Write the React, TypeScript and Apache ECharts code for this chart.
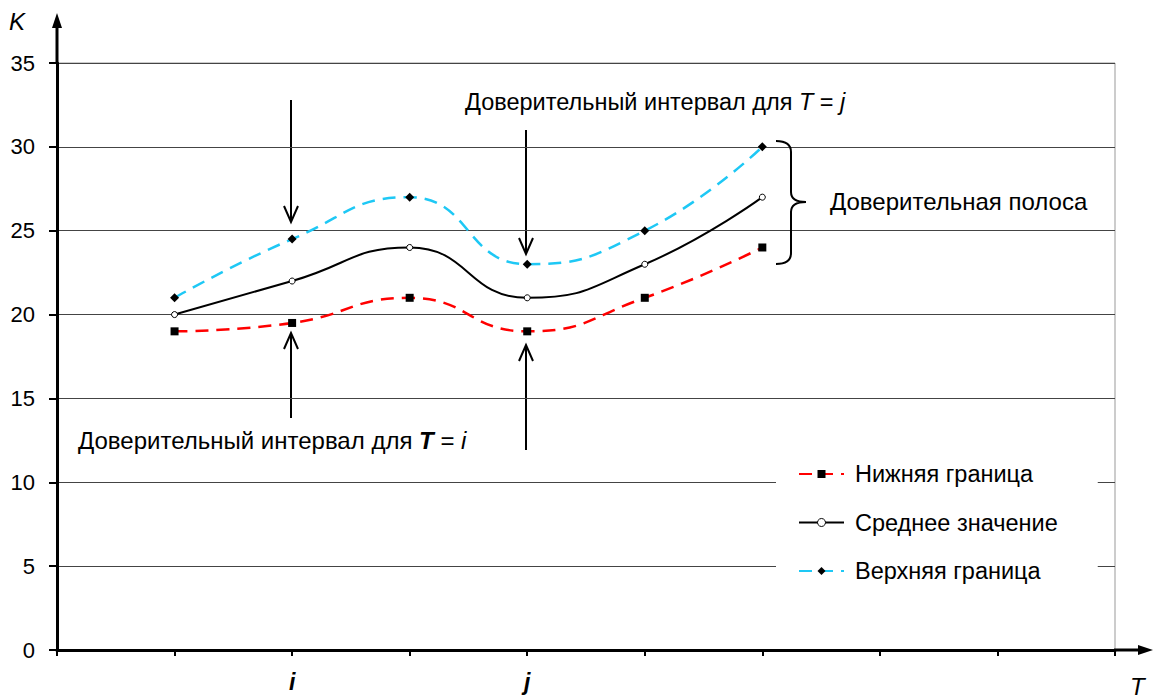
import React, { useEffect, useRef } from "react";
import * as echarts from "echarts";

const xPositions = [1, 2, 3, 4, 5, 6];
const lowerBound = [19, 19.5, 21, 19, 21, 24];
const meanValue = [20, 22, 24, 21, 23, 27];
const upperBound = [21, 24.5, 27, 23, 25, 30];
const xTickLabels: Record<number, string> = { 2: "i", 4: "j" };
const seriesNames = ["Нижняя граница", "Среднее значение", "Верхняя граница"];

const FONT = "'Liberation Sans', Arial, sans-serif";

const GRID = { left: 57, right: 40, top: 63, bottom: 48 };

function zip(ys: number[]) {
  return xPositions.map((x, i) => [x, ys[i]]);
}

export default function App() {
  const ref = useRef<HTMLDivElement>(null);
  useEffect(() => {
    if (!ref.current) return;
    try {
      echarts.graphic.registerShape(
        "brace",
        echarts.graphic.extendPath(
          "M776 141 Q791 141 791 152 L791 192 Q791 202 806 202 Q791 202 791 212 L791 253 Q791 264 776 264",
          {}
        )
      );
    } catch (e) {}
    const chart = echarts.init(ref.current, null, { renderer: "svg" });

    const arrowDown = (x: number, y1: number, y2: number) => [
      { type: "line", shape: { x1: x, y1, x2: x, y2 }, style: { stroke: "#000", lineWidth: 2 } },
      {
        type: "polyline",
        shape: { points: [[x - 7, y2 - 16], [x, y2], [x + 7, y2 - 16]] },
        style: { stroke: "#000", lineWidth: 2, fill: "none" },
      },
    ];
    const arrowUp = (x: number, y1: number, y2: number) => [
      { type: "line", shape: { x1: x, y1, x2: x, y2 }, style: { stroke: "#000", lineWidth: 2 } },
      {
        type: "polyline",
        shape: { points: [[x - 7, y2 + 16], [x, y2], [x + 7, y2 + 16]] },
        style: { stroke: "#000", lineWidth: 2, fill: "none" },
      },
    ];

    const textBase = { fontSize: 24, fontFamily: FONT, fill: "#000" };
    const rich = (size: number) => ({
      n: { fontSize: size, fontFamily: FONT, fill: "#000" },
      it: { fontSize: size, fontFamily: FONT, fill: "#000", fontStyle: "italic" },
      b: { fontSize: size, fontFamily: FONT, fill: "#000", fontStyle: "italic", fontWeight: "bold" },
    });

    chart.setOption({
      animation: false,
      backgroundColor: "#fff",
      grid: {
        ...GRID,
        show: true,
        borderColor: "#999",
        borderWidth: 1,
        backgroundColor: "transparent",
      },
      xAxis: {
        type: "value",
        min: 0,
        max: 9,
        interval: 1,
        axisLine: { show: true, onZero: false, lineStyle: { color: "#000", width: 3 } },
        axisTick: { show: true, length: 6, lineStyle: { color: "#000", width: 2 } },
        splitLine: { show: false },
        axisLabel: {
          margin: 20,
          fontSize: 23,
          fontFamily: FONT,
          fontStyle: "italic",
          fontWeight: "bold",
          color: "#000",
          formatter: (v: number) => xTickLabels[v] ?? "",
        },
      },
      yAxis: {
        type: "value",
        min: 0,
        max: 35,
        interval: 5,
        axisLine: { show: true, lineStyle: { color: "#000", width: 3 } },
        axisTick: { show: true, length: 8, lineStyle: { color: "#000", width: 2 } },
        splitLine: { show: true, lineStyle: { color: "#444", width: 1 } },
        axisLabel: { margin: 22, fontSize: 22, fontFamily: FONT, color: "#000" },
      },
      legend: {
        orient: "vertical",
        left: 776,
        top: 458,
        backgroundColor: "#fff",
        padding: [4, 40, 6, 22],
        itemGap: 24.5,
        itemWidth: 45,
        itemHeight: 10,
        itemStyle: { borderWidth: 1 },
        textStyle: { fontSize: 23.5, fontFamily: FONT, color: "#000", padding: [0, 0, 0, 6] },
        data: seriesNames,
      },
      series: [
        {
          name: seriesNames[2],
          type: "line",
          data: zip(upperBound),
          smooth: 0.5,
          symbol: "diamond",
          symbolSize: 9,
          itemStyle: { color: "#000" },
          lineStyle: { color: "#1EC8F5", width: 2.5, type: [13, 8] },
          z: 3,
        },
        {
          name: seriesNames[1],
          type: "line",
          data: zip(meanValue),
          smooth: 0.5,
          symbol: "circle",
          symbolSize: 6,
          itemStyle: { color: "#fff", borderColor: "#000", borderWidth: 1 },
          lineStyle: { color: "#000", width: 2 },
          z: 4,
        },
        {
          name: seriesNames[0],
          type: "line",
          data: zip(lowerBound),
          smooth: 0.5,
          symbol: "rect",
          symbolSize: 8,
          itemStyle: { color: "#000" },
          lineStyle: { color: "#FF0000", width: 2.5, type: [13, 8] },
          z: 3,
        },
      ],
      graphic: [
        // axis extensions with arrows
        { type: "line", z: 10, shape: { x1: 57, y1: 64, x2: 57, y2: 24 }, style: { stroke: "#000", lineWidth: 3 } },
        { type: "polygon", z: 10, shape: { points: [[57, 13], [52, 28], [62, 28]] }, style: { fill: "#000" } },
        { type: "line", z: 10, shape: { x1: 1114, y1: 650, x2: 1142, y2: 650 }, style: { stroke: "#000", lineWidth: 3 } },
        { type: "polygon", z: 10, shape: { points: [[1153, 650], [1138, 645], [1138, 655]] }, style: { fill: "#000" } },
        { type: "text", z: 10, x: 9, y: 21, style: { ...textBase, text: "K", fontStyle: "italic", verticalAlign: "middle" } },
        { type: "text", z: 10, x: 1130, y: 686, style: { ...textBase, text: "T", fontStyle: "italic", verticalAlign: "middle" } },
        // annotation arrows
        ...arrowDown(291, 100, 222),
        ...arrowUp(291, 418, 333),
        ...arrowDown(526, 130, 254),
        ...arrowUp(526, 450, 345),
        // annotation texts
        {
          type: "text",
          z: 10,
          x: 465,
          y: 102,
          style: {
            ...textBase,
            fontSize: 23.5,
            verticalAlign: "middle",
            text: "{n|Доверительный интервал для }{it|T}{n| = }{it|j}",
            rich: rich(23.5),
          },
        },
        {
          type: "text",
          z: 10,
          x: 78,
          y: 440,
          style: {
            ...textBase,
            verticalAlign: "middle",
            text: "{n|Доверительный интервал для }{b|T}{n| = }{it|i}",
            rich: rich(24),
          },
        },
        { type: "brace", z: 10, x: 0, y: 0, style: { fill: "none", stroke: "#000", lineWidth: 2 } },
        { type: "text", z: 10, x: 830, y: 201, style: { ...textBase, text: "Доверительная полоса", verticalAlign: "middle" } },
      ],
    });
    return () => chart.dispose();
  }, []);
  return (
    <div
      ref={ref}
      style={{ position: "fixed", left: 0, top: 0, width: 1155, height: 698, background: "#fff" }}
    />
  );
}
